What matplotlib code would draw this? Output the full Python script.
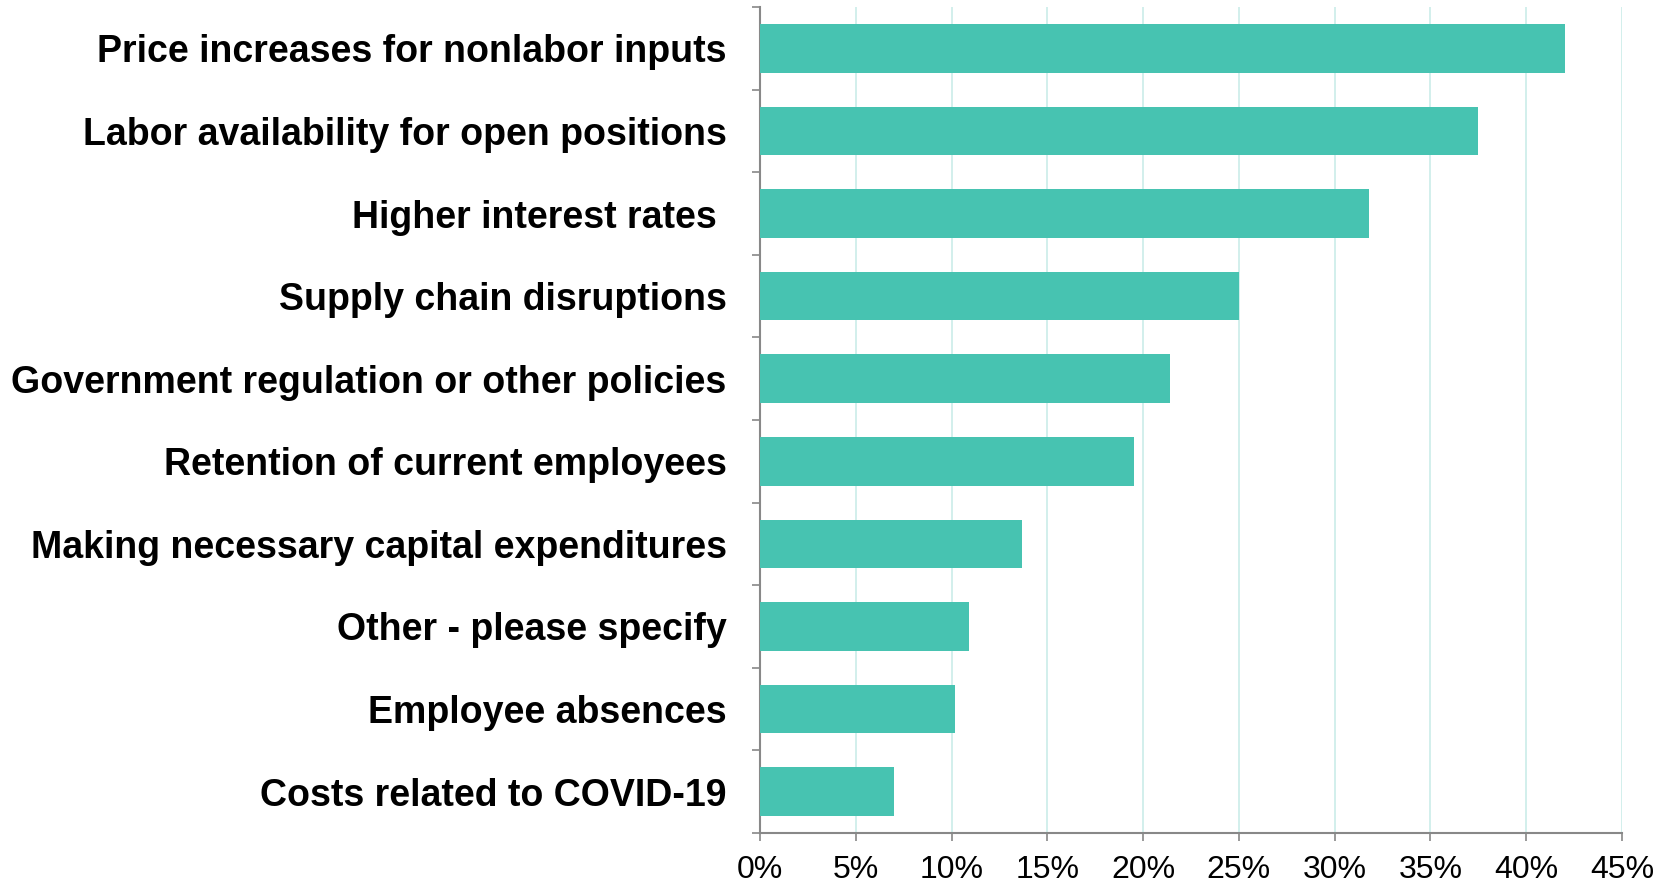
import matplotlib
matplotlib.use("Agg")
import matplotlib.pyplot as plt
from matplotlib.ticker import FixedLocator, PercentFormatter

categories = [
    "Price increases for nonlabor inputs",
    "Labor availability for open positions",
    "Higher interest rates ",
    "Supply chain disruptions",
    "Government regulation or other policies",
    "Retention of current employees",
    "Making necessary capital expenditures",
    "Other - please specify",
    "Employee absences",
    "Costs related to COVID-19",
]
values = [42.0, 37.5, 31.8, 25.0, 21.4, 19.5, 13.7, 10.9, 10.2, 7.0]
xticks = [0, 5, 10, 15, 20, 25, 30, 35, 40, 45]

fig = plt.figure(figsize=(16.58, 8.86), dpi=100)
ax = fig.add_axes([760/1658, 1-833/886, (1622-760)/1658, (833-7)/886])

y = list(range(len(categories)))
ax.barh(y, values, height=0.59, color="#47C3B1", zorder=3)

ax.set_xlim(0, 45)
ax.set_ylim(len(categories) - 0.5, -0.5)
ax.set_xticks(xticks)
ax.xaxis.set_major_formatter(PercentFormatter(decimals=0))
ax.grid(axis="x", color="#CFEEEA", linewidth=1.3, zorder=0)

ax.set_yticks(y)
ax.set_yticklabels(categories, fontfamily="Liberation Sans", fontweight="bold", fontsize=27)
ax.yaxis.set_minor_locator(FixedLocator([k - 0.5 for k in range(len(categories) + 1)]))
ax.tick_params(axis="y", which="major", length=0, pad=24)
ax.tick_params(axis="y", which="minor", length=6, color="#888888", width=1.2)
ax.tick_params(axis="x", which="major", length=6, color="#888888", width=1.2, pad=10,
               labelsize=23)
for lab in ax.get_xticklabels():
    lab.set_fontfamily("Liberation Sans")

for s in ["top", "right"]:
    ax.spines[s].set_visible(False)
for s in ["left", "bottom"]:
    ax.spines[s].set_color("#888888")
    ax.spines[s].set_linewidth(1.5)

fig.savefig("out.png", dpi=100)
